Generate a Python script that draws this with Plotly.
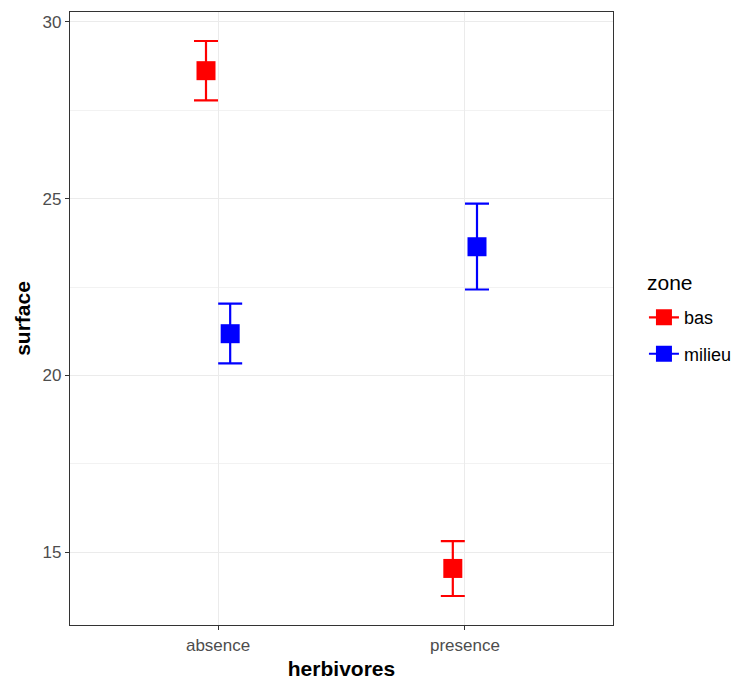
import plotly.graph_objects as go

categories = ["absence", "presence"]
zones = ["bas", "milieu"]
colors = {"bas": "#FF0000", "milieu": "#0000FF"}
means = {"bas": [28.62, 14.54], "milieu": [21.18, 23.64]}
lower = {"bas": [27.78, 13.76], "milieu": [20.34, 22.43]}
upper = {"bas": [29.46, 15.31], "milieu": [22.03, 24.86]}

dodge = {"bas": -0.049, "milieu": 0.049}

fig = go.Figure()
for z in zones:
    xs = [i + dodge[z] for i in range(len(categories))]
    fig.add_trace(go.Scatter(
        x=xs, y=means[z], mode="markers", name=z, showlegend=False,
        marker=dict(symbol="square", size=19, color=colors[z], line=dict(width=0)),
        error_y=dict(type="data", symmetric=False,
                     array=[u - m for u, m in zip(upper[z], means[z])],
                     arrayminus=[m - l for m, l in zip(means[z], lower[z])],
                     color=colors[z], thickness=2.2, width=12),
    ))
    fig.add_trace(go.Scatter(
        x=[None], y=[None], mode="lines+markers", name=z, showlegend=True,
        legendgroup=z,
        line=dict(color=colors[z], width=2.2),
        marker=dict(symbol="square", size=19, color=colors[z]),
    ))

fig.add_annotation(
    text="zone", xref="paper", yref="paper", x=1.059, y=0.5595,
    xanchor="left", yanchor="middle", showarrow=False,
    font=dict(size=21, color="#000000"),
)

fig.update_layout(
    width=734, height=672,
    margin=dict(l=62, r=129, t=4, b=55, autoexpand=False),
    plot_bgcolor="white", paper_bgcolor="white",
    font=dict(family="Liberation Sans, Arial, sans-serif", color="#000000"),
    legend=dict(
        font=dict(size=18, color="#000000"),
        x=1.057, xanchor="left", y=0.472, yanchor="middle",
        itemwidth=30, tracegroupgap=10,
    ),
    xaxis=dict(
        range=[-0.6, 1.6], tickvals=[0, 1], ticktext=categories,
        showgrid=True, gridcolor="#EBEBEB", gridwidth=1.3,
        zeroline=False, showline=True, linecolor="#333333", linewidth=1.3,
        mirror=True, ticks="outside", ticklen=4, tickcolor="#333333",
        tickfont=dict(size=17, color="#4D4D4D"), automargin=False,
        title=dict(text="<b>herbivores</b>", font=dict(size=21, color="#000000"), standoff=9),
    ),
    yaxis=dict(
        range=[12.94, 30.28], tickvals=[15, 20, 25, 30],
        showgrid=True, gridcolor="#EBEBEB", gridwidth=1.3,
        minor=dict(tickvals=[17.5, 22.5, 27.5], showgrid=True, gridcolor="#F2F2F2", gridwidth=0.8, ticks=""),
        zeroline=False, showline=True, linecolor="#333333", linewidth=1.3,
        mirror=True, ticks="outside", ticklen=4, tickcolor="#333333",
        tickfont=dict(size=17, color="#4D4D4D"), automargin=False,
        title=dict(text="<b>surface</b>", font=dict(size=21, color="#000000"), standoff=6),
    ),
)

fig.write_html("out.html")
